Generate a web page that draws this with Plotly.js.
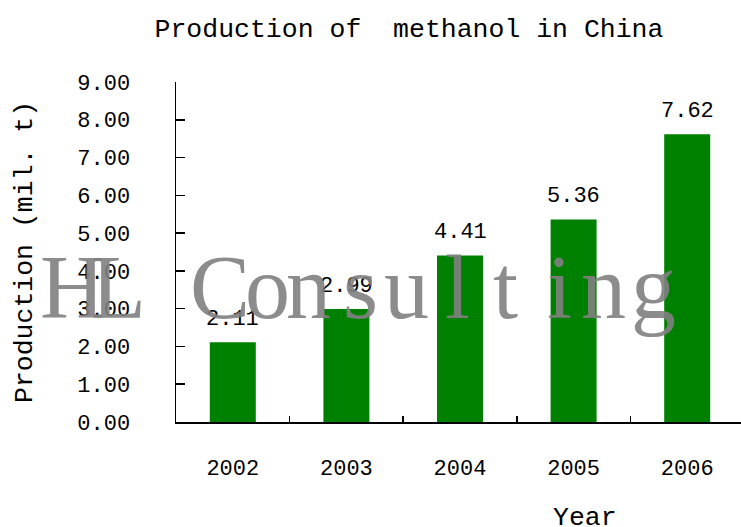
<!DOCTYPE html>
<html>
<head>
<meta charset="utf-8">
<script src="https://cdn.plot.ly/plotly-3.0.1.min.js"></script>
<style>html,body{margin:0;padding:0;background:#fff;}#chart{width:741px;height:527px;}</style>
</head>
<body>
<div id="chart"></div>
<script>
// ---- data ----
const years = ['2002', '2003', '2004', '2005', '2006'];
const production = [2.11, 2.99, 4.41, 5.36, 7.62];
const yTickValues = [0, 1, 2, 3, 4, 5, 6, 7, 8, 9];
const yTickLabels = ['0.00', '1.00', '2.00', '3.00', '4.00', '5.00', '6.00', '7.00', '8.00', '9.00'];
const chartTitle = 'Production of \u00a0methanol in China';
const yTitle = 'Production (mil. t)';
const xTitle = 'Year';
const watermarkLetters = ['H', 'L', 'C', 'o', 'n', 's', 'u', 'l', 't', 'i', 'n', 'g'];

// ---- layout helpers ----
const W = 741, H = 527;
const M = {l: 176, r: 0, t: 82, b: 105};
const PW = W - M.l - M.r, PH = H - M.t - M.b;
const px2x = p => (p - M.l) / PW;
const px2y = p => (H - M.b - p) / PH;

const mono = 'Liberation Mono, DejaVu Sans Mono, monospace';
const black = '#000000';

const wmX = [72, 118, 220, 267, 308, 360, 406, 457, 505, 559, 603, 653];

const annotations = [];
// bar value labels (category index positions)
years.forEach((yr, i) => {
  annotations.push({
    x: i, y: production[i], xref: 'x', yref: 'y',
    text: production[i].toFixed(2), showarrow: false,
    xanchor: 'center', yanchor: 'middle', yshift: 23,
    font: {family: mono, size: 22, color: black}
  });
});
// axis titles
annotations.push({
  xref: 'paper', yref: 'paper', x: px2x(25), y: px2y(252),
  text: yTitle, textangle: -90, showarrow: false,
  xanchor: 'center', yanchor: 'middle',
  font: {family: mono, size: 26.5, color: black}
});
annotations.push({
  xref: 'paper', yref: 'paper', x: px2x(585), y: px2y(518),
  text: xTitle, showarrow: false,
  xanchor: 'center', yanchor: 'middle',
  font: {family: mono, size: 26.5, color: black}
});
// watermark
watermarkLetters.forEach((ch, i) => {
  annotations.push({
    xref: 'paper', yref: 'paper', x: px2x(wmX[i]), y: px2y(287),
    text: ch, showarrow: false, xanchor: 'center', yanchor: 'middle',
    font: {family: 'Liberation Serif, DejaVu Serif, serif', size: 90, color: 'rgba(128,128,128,0.9)'}
  });
});

const trace = {
  type: 'bar', x: years, y: production,
  width: 0.405,
  marker: {color: '#008000', line: {width: 0}},
  hoverinfo: 'skip'
};

const layout = {
  width: W, height: H,
  margin: M,
  paper_bgcolor: '#ffffff', plot_bgcolor: '#ffffff',
  showlegend: false,
  title: {
    text: chartTitle, xref: 'container', yref: 'container',
    x: 409 / W, y: 1 - 28 / H, xanchor: 'center', yanchor: 'middle',
    font: {family: mono, size: 26.5, color: black}
  },
  xaxis: {
    type: 'category', range: [-0.5, -0.5 + PW / 113.6],
    showline: true, linecolor: black, linewidth: 1.5,
    ticks: 'inside', ticklen: 6, tickwidth: 1.5, tickcolor: black,
    tickson: 'boundaries', showgrid: false, zeroline: false,
    tickfont: {family: mono, size: 22, color: black},
    ticklabelstandoff: 25
  },
  yaxis: {
    range: [0, 9], showline: true, linecolor: black, linewidth: 1.5,
    ticks: 'inside', ticklen: 9, tickwidth: 1.5, tickcolor: black,
    tickmode: 'array', tickvals: yTickValues, ticktext: yTickLabels,
    showgrid: false, zeroline: false,
    tickfont: {family: mono, size: 22, color: black},
    ticklabelstandoff: 40
  },
  annotations: annotations
};

Plotly.newPlot('chart', [trace], layout, {displayModeBar: false, staticPlot: true});
</script>
</body>
</html>
